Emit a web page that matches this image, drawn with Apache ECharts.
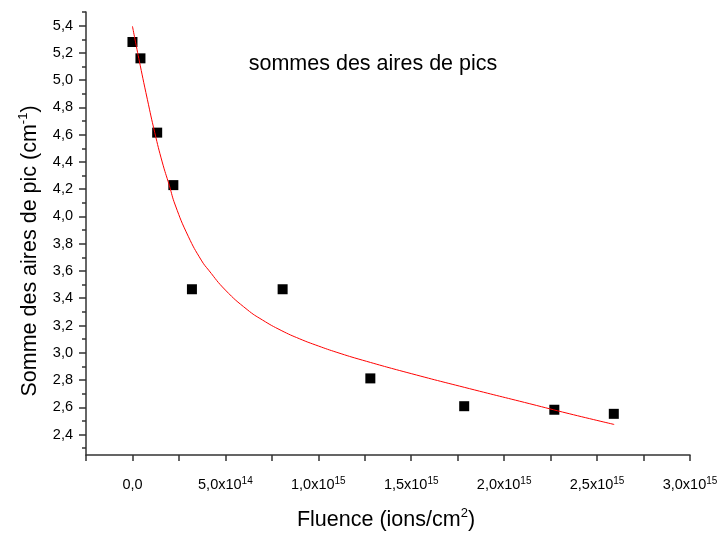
<!DOCTYPE html>
<html><head><meta charset="utf-8">
<script src="https://cdn.jsdelivr.net/npm/echarts@6/dist/echarts.min.js"></script>
<style>html,body{margin:0;padding:0;background:#fff}#c{width:725px;height:534px}</style>
</head><body><div id="c"></div>
<script>
// measured points (fluence in ions/cm2, sum of peak areas in cm-1)
const fluence = [0, 4.3e13, 1.33e14, 2.2e14, 3.2e14, 8.08e14, 1.28e15, 1.785e15, 2.27e15, 2.59e15];
const aires = [5.28, 5.16, 4.615, 4.23, 3.466, 3.466, 2.812, 2.608, 2.582, 2.552];
// fitted curve
const fitX = [0, 3.4e13, 8e13, 1.2e14, 1.6e14, 1.98e14, 2.3e14, 3.0e14, 3.7e14, 4.1e14, 5.0e14, 6.17e14, 7.0e14, 8.0e14, 9.0e14, 1.0e15, 1.1e15, 1.237e15, 1.5e15, 1.813e15, 2.138e15, 2.35e15, 2.592e15];
const fitY = [5.395, 5.16, 4.86, 4.615, 4.40, 4.229, 4.084, 3.855, 3.68, 3.606, 3.46, 3.317, 3.24, 3.164, 3.102, 3.05, 3.003, 2.946, 2.847, 2.737, 2.626, 2.553, 2.474];
// axis ticks
const xLabelValues = [0, 5e14, 1e15, 1.5e15, 2e15, 2.5e15, 3e15];
const xTickValues = [-2.5e14, 0, 2.5e14, 5e14, 7.5e14, 1e15, 1.25e15, 1.5e15, 1.75e15, 2e15, 2.25e15, 2.5e15, 2.75e15, 3e15];
const yLabelValues = [2.4, 2.6, 2.8, 3.0, 3.2, 3.4, 3.6, 3.8, 4.0, 4.2, 4.4, 4.6, 4.8, 5.0, 5.2, 5.4];
const yMinorValues = [2.3, 2.5, 2.7, 2.9, 3.1, 3.3, 3.5, 3.7, 3.9, 4.1, 4.3, 4.5, 4.7, 4.9, 5.1, 5.3, 5.5];
const titleText = 'sommes des aires de pics';

const FONT = '"Liberation Sans", Arial, sans-serif';
const AX = '#333333';
function xfmt(v) {
  if (Math.abs(v) < 1) return '{a|0,0}';
  const e = Math.floor(Math.log10(v) + 1e-9);
  const m = v / Math.pow(10, e);
  return '{a|' + m.toFixed(1).replace('.', ',') + 'x10}{s|' + e + '}';
}
const chart = echarts.init(document.getElementById('c'), null, {renderer: 'canvas'});
chart.setOption({
  animation: false,
  grid: {left: 86, right: 35, top: 12, bottom: 79, containLabel: false},
  xAxis: {
    type: 'value', min: -2.5e14, max: 3e15,
    splitLine: {show: false},
    axisLine: {show: true, onZero: false, lineStyle: {color: AX, width: 1.5}},
    axisTick: {show: true, inside: false, length: 6, customValues: xTickValues, lineStyle: {color: AX, width: 1.5}},
    axisLabel: {
      customValues: xLabelValues, margin: 21, formatter: xfmt, color: '#000',
      rich: {
        a: {fontFamily: FONT, fontSize: 14.5, color: '#000', verticalAlign: 'bottom', lineHeight: 16},
        s: {fontFamily: FONT, fontSize: 10, color: '#000', verticalAlign: 'top', lineHeight: 16}
      }
    }
  },
  yAxis: [{
    type: 'value', min: 2.25, max: 5.5,
    splitLine: {show: false},
    axisLine: {show: true, onZero: false, lineStyle: {color: AX, width: 1.5}},
    axisTick: {show: true, inside: false, length: 7, customValues: yLabelValues, lineStyle: {color: AX, width: 1.5}},
    axisLabel: {customValues: yLabelValues, margin: 13, fontFamily: FONT, fontSize: 14.5, color: '#000',
      formatter: v => v.toFixed(1).replace('.', ',')}
  }, {
    type: 'value', min: 2.25, max: 5.5, position: 'left',
    splitLine: {show: false},
    axisLine: {show: false, onZero: false},
    axisTick: {show: true, inside: false, length: 4, customValues: yMinorValues, lineStyle: {color: AX, width: 1.5}},
    axisLabel: {show: false}
  }],
  series: [{
    type: 'scatter', symbol: 'rect', symbolSize: 10,
    itemStyle: {color: '#000', opacity: 1},
    data: fluence.map((x, i) => [x, aires[i]]), z: 2
  }, {
    type: 'line', smooth: 0.5, showSymbol: false, symbol: 'none',
    lineStyle: {color: '#ff0000', width: 1},
    data: fitX.map((x, i) => [x, fitY[i]]), z: 3
  }],
  graphic: [{
    type: 'text', x: 373, y: 64,
    style: {text: titleText, font: '21.5px ' + FONT, fill: '#000', align: 'center', verticalAlign: 'middle'}
  }, {
    type: 'text', x: 386, y: 519,
    style: {text: '{a|Fluence (ions/cm}{s|2}{a|)}', align: 'center', verticalAlign: 'middle',
      rich: {a: {fontFamily: FONT, fontSize: 21.5, fill: '#000', verticalAlign: 'bottom', lineHeight: 24},
             s: {fontFamily: FONT, fontSize: 13, fill: '#000', verticalAlign: 'top', lineHeight: 24}}}
  }, {
    type: 'text', x: 29, y: 251, rotation: Math.PI / 2,
    style: {text: '{a|Somme des aires de pic (cm}{s|-1}{a|)}', align: 'center', verticalAlign: 'middle',
      rich: {a: {fontFamily: FONT, fontSize: 21.5, fill: '#000', verticalAlign: 'bottom', lineHeight: 24},
             s: {fontFamily: FONT, fontSize: 13, fill: '#000', verticalAlign: 'top', lineHeight: 24}}}
  }]
});
</script></body></html>
